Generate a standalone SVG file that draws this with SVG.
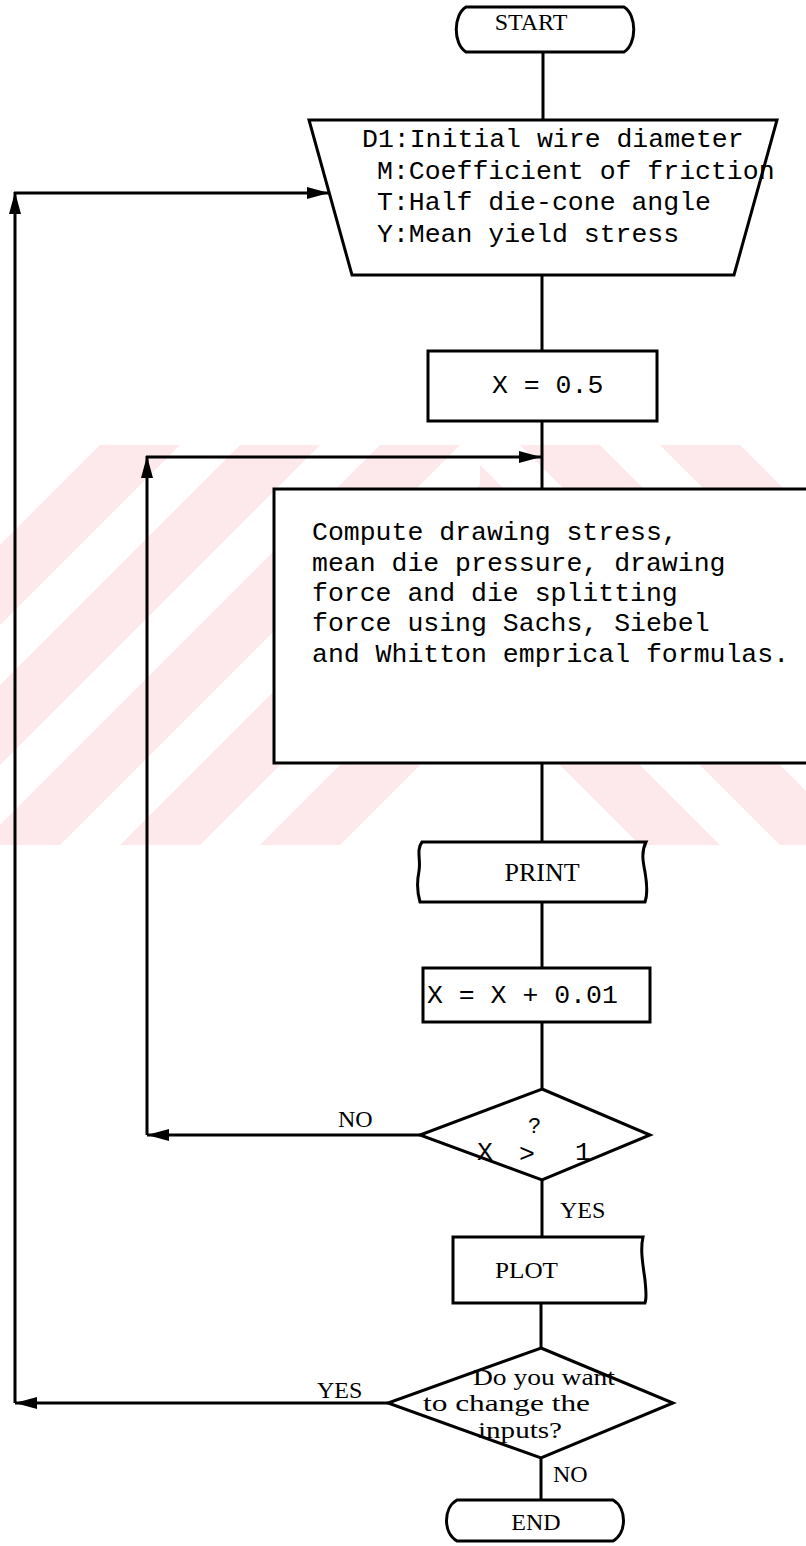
<svg xmlns="http://www.w3.org/2000/svg" width="806" height="1546" viewBox="0 0 806 1546">
<defs>
<style>
.b{fill:#fff;stroke:#000;stroke-width:3}
.n{fill:none;stroke:#000;stroke-width:3}
.m{font-family:"Liberation Mono","DejaVu Sans Mono",monospace;font-size:26.5px;fill:#000}
.t{font-family:"Liberation Serif","DejaVu Serif",serif;font-size:24px;fill:#000}
.q{font-family:"Liberation Serif","DejaVu Serif",serif;font-size:24px;fill:#000}
</style>
<marker id="ah" viewBox="0 0 22 12" refX="22" refY="6" markerWidth="22" markerHeight="12" markerUnits="userSpaceOnUse" orient="auto">
<path d="M0,0 L22,6 L0,12 Z" fill="#000"/>
</marker>
<clipPath id="wl"><rect x="0" y="445" width="480" height="400"/></clipPath>
<clipPath id="wr"><rect x="480" y="445" width="326" height="400"/></clipPath>
</defs>
<g id="watermark" fill="#fde9ec">
<g clip-path="url(#wl)">
<polygon points="-300,845 -220,845 180,445 100,445"/>
<polygon points="-160,845 -80,845 320,445 240,445"/>
<polygon points="-20,845 60,845 460,445 380,445"/>
<polygon points="120,845 200,845 600,445 520,445"/>
<polygon points="260,845 340,845 740,445 660,445"/>
</g>
<g clip-path="url(#wr)">
<polygon points="380,445 460,445 860,845 780,845"/>
<polygon points="520,445 600,445 1000,845 920,845"/>
<polygon points="660,445 740,445 1140,845 1060,845"/>
<polygon points="240,445 320,445 720,845 640,845"/>
</g>
</g>
<g id="connectors">
<line class="n" x1="543" y1="52" x2="543" y2="120"/>
<line class="n" x1="542" y1="275" x2="542" y2="351"/>
<line class="n" x1="542" y1="421" x2="542" y2="489"/>
<line class="n" x1="542" y1="763" x2="542" y2="842"/>
<line class="n" x1="542" y1="902" x2="542" y2="968"/>
<line class="n" x1="542" y1="1022" x2="542" y2="1089"/>
<line class="n" x1="542" y1="1180" x2="542" y2="1237"/>
<line class="n" x1="541" y1="1303" x2="541" y2="1348"/>
<line class="n" x1="541" y1="1458" x2="541" y2="1500"/>
<line class="n" x1="420" y1="1135" x2="147" y2="1135" marker-end="url(#ah)"/>
<line class="n" x1="147" y1="1135" x2="147" y2="456" marker-end="url(#ah)"/>
<line class="n" x1="146" y1="457" x2="541" y2="457" marker-end="url(#ah)"/>
<line class="n" x1="388" y1="1403" x2="15" y2="1403" marker-end="url(#ah)"/>
<line class="n" x1="15" y1="1403" x2="15" y2="192" marker-end="url(#ah)"/>
<line class="n" x1="14" y1="193" x2="329" y2="193" marker-end="url(#ah)"/>
<text class="t" x="338" y="1127">NO</text>
<text class="t" x="560" y="1218">YES</text>
<text class="t" x="317" y="1398">YES</text>
<text class="t" x="553" y="1482">NO</text>
</g>
<g id="start">
<path class="b" d="M466,7 L624,7 C637,15 637,44 624,52 L466,52 C453,44 453,15 466,7 Z"/>
<text class="t" x="531" y="30" text-anchor="middle">START</text>
</g>
<g id="input">
<polygon class="b" points="309,120 777,120 734,275 352,275"/>
<text class="m" x="362" y="147">D1:Initial wire diameter</text>
<text class="m" x="377" y="179">M:Coefficient of friction</text>
<text class="m" x="377" y="210">T:Half die-cone angle</text>
<text class="m" x="377" y="242">Y:Mean yield stress</text>
</g>
<g id="init">
<rect class="b" x="428" y="351" width="229" height="70"/>
<text class="m" x="492" y="393">X = 0.5</text>
</g>
<g id="compute">
<path class="b" d="M820,489 H274 V763 H820"/>
<text class="m" x="312" y="540">Compute drawing stress,</text>
<text class="m" x="312" y="571">mean die pressure, drawing</text>
<text class="m" x="312" y="601">force and die splitting</text>
<text class="m" x="312" y="631">force using Sachs, Siebel</text>
<text class="m" x="312" y="662">and Whitton emprical formulas.</text>
</g>
<g id="print">
<path class="b" d="M422,842 H646 C641,852 643,862 645,872 C647,884 648,894 645,902 H420 C417,892 417,881 419,871 C421,860 416,850 422,842 Z"/>
<text class="t" x="542" y="881" text-anchor="middle" style="font-size:26px">PRINT</text>
</g>
<g id="increment">
<rect class="b" x="423" y="968" width="227" height="54"/>
<text class="m" x="427" y="1003">X = X + 0.01</text>
</g>
<g id="test">
<polygon class="b" points="542,1089 650,1135 542,1180 420,1135"/>
<text class="m" x="477" y="1160">X</text>
<text class="m" x="519" y="1162">&gt;</text>
<text class="m" x="528" y="1133" style="font-size:22px">?</text>
<text class="m" x="575" y="1160">1</text>
</g>
<g id="plot">
<path class="b" d="M453,1237 H643 C640,1250 643,1265 645,1280 C646,1292 647,1298 645,1303 H453 Z"/>
<text class="t" x="495" y="1278" textLength="63" lengthAdjust="spacingAndGlyphs">PLOT</text>
</g>
<g id="again">
<polygon class="b" points="541,1348 673,1403 541,1458 388,1403"/>
<text class="q" x="473" y="1385" textLength="142" lengthAdjust="spacingAndGlyphs">Do you want</text>
<text class="q" x="423" y="1411" textLength="167" lengthAdjust="spacingAndGlyphs">to change the</text>
<text class="q" x="478" y="1438" textLength="84" lengthAdjust="spacingAndGlyphs">inputs?</text>
</g>
<g id="end">
<path class="b" d="M457,1500 L613,1500 C627,1508 627,1533 613,1541 L457,1541 C443,1533 443,1508 457,1500 Z"/>
<text class="t" x="536" y="1530" text-anchor="middle">END</text>
</g>
</svg>
